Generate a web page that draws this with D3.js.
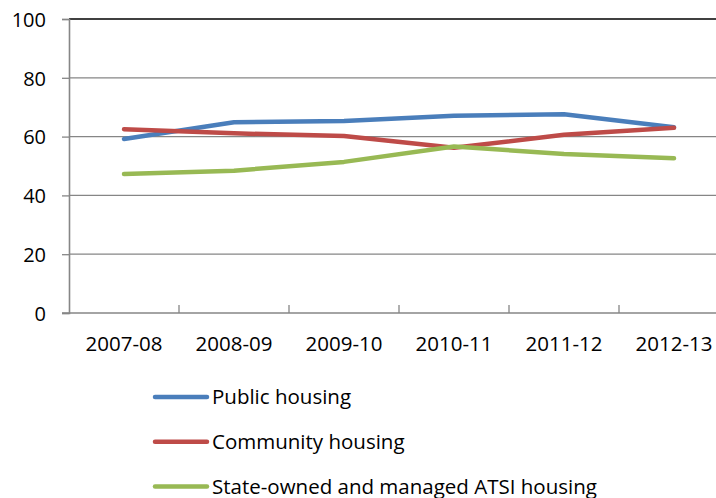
<!DOCTYPE html>
<html><head><meta charset="utf-8">
<script src="https://cdn.jsdelivr.net/npm/d3@7"></script>
<style>body{margin:0;background:#fff}svg{display:block}text{font-family:"Open Sans",Lato,sans-serif;fill:#000}</style>
</head><body>
<svg id="c" width="716" height="498"></svg>
<script>
const categories = ["2007-08","2008-09","2009-10","2010-11","2011-12","2012-13"];
const publicHousing = [59.2, 64.9, 65.3, 67.1, 67.6, 63.2];
const communityHousing = [62.5, 61.1, 60.2, 56.2, 60.6, 63.0];
const atsiHousing = [47.3, 48.4, 51.4, 56.6, 54.1, 52.6];
const seriesNames = ["Public housing","Community housing","State-owned and managed ATSI housing"];
const seriesColors = ["#4A7EBB","#BE4B48","#98B954"];
const yTicks = [0,20,40,60,80,100];

(function(){
const series = [publicHousing, communityHousing, atsiHousing];
const svg = d3.select("#c");
const pL = 69, pR = 729, pT = 19, pB = 313;
const x = d3.scaleBand().domain(categories).range([pL, pR]);
const y = d3.scaleLinear().domain([0,100]).range([pB, pT]);

svg.append("g").selectAll("line").data(yTicks.filter(t=>t>0 && t<100)).join("line")
  .attr("x1", pL).attr("x2", 716).attr("y1", d=>y(d)).attr("y2", d=>y(d))
  .attr("stroke","#868686").attr("stroke-width",1.3);
svg.append("line").attr("x1",pL).attr("x2",716).attr("y1",y(100)).attr("y2",y(100))
  .attr("stroke","#000").attr("stroke-width",1.6);

const yAxis = d3.axisLeft(y).tickValues(yTicks).tickSize(7).tickPadding(16);
const gy = svg.append("g").attr("transform",`translate(${pL},0)`).call(yAxis);
gy.select(".domain").attr("stroke","#868686").attr("stroke-width",1.6);
gy.selectAll(".tick line").attr("stroke","#868686").attr("stroke-width",1.3);
gy.selectAll("text").style("font-size","20px").attr("dy","0.36em");

const gx = svg.append("g").attr("transform",`translate(0,${pB})`);
gx.append("line").attr("x1",pL-7).attr("x2",716).attr("y1",0).attr("y2",0)
  .attr("stroke","#868686").attr("stroke-width",1.6);
const bounds = categories.slice(1).map(c=>x(c));
gx.selectAll("line.tk").data(bounds).join("line").attr("class","tk")
  .attr("x1",d=>d).attr("x2",d=>d).attr("y1",0).attr("y2",-8)
  .attr("stroke","#868686").attr("stroke-width",1.3);
gx.selectAll("text").data(categories).join("text")
  .attr("x",d=>x(d)+x.bandwidth()/2).attr("y",38).attr("text-anchor","middle")
  .style("font-size","20.5px").text(d=>d);

const line = d3.line().x((d,i)=>x(categories[i])+x.bandwidth()/2).y(d=>y(d));
svg.append("g").selectAll("path").data(series).join("path")
  .attr("d", line).attr("fill","none")
  .attr("stroke",(d,i)=>seriesColors[i]).attr("stroke-width",4.5)
  .attr("stroke-linecap","round").attr("stroke-linejoin","round");

const lg = svg.append("g").selectAll("g").data(seriesNames).join("g")
  .attr("transform",(d,i)=>`translate(0,${397 + i*44.8})`);
lg.append("line").attr("x1",155).attr("x2",207).attr("y1",0).attr("y2",0)
  .attr("stroke",(d,i)=>seriesColors[i]).attr("stroke-width",4.5).attr("stroke-linecap","round");
lg.append("text").attr("x",212).attr("y",7).style("font-size","20.5px").text(d=>d);
})();
</script>
</body></html>
